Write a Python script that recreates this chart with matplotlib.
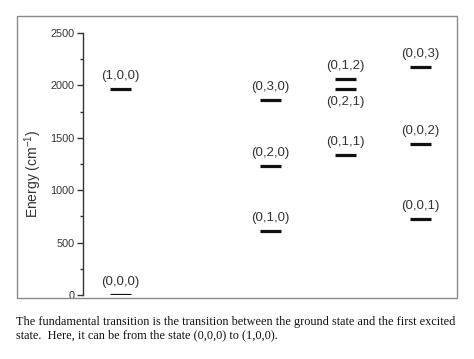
import matplotlib.pyplot as plt
from matplotlib.patches import Rectangle

# vibrational levels
states = ["(0,0,0)", "(1,0,0)",
          "(0,1,0)", "(0,2,0)", "(0,3,0)",
          "(0,1,1)", "(0,2,1)", "(0,1,2)",
          "(0,0,1)", "(0,0,2)", "(0,0,3)"]
column = [1, 1, 3, 3, 3, 4, 4, 4, 5, 5, 5]
energy = [0, 1962, 612, 1229, 1857, 1340, 1962, 2063, 724, 1445, 2174]
label_below = ["(0,2,1)"]

caption = ("The fundamental transition is the transition between the ground state and the first excited\n"
           "state.  Here, it can be from the state (0,0,0) to (1,0,0).")

W, H = 474, 359
plt.rcParams['font.family'] = ['Liberation Sans', 'DejaVu Sans']
plt.rcParams['mathtext.fontset'] = 'custom'
plt.rcParams['mathtext.rm'] = 'Liberation Sans'
plt.rcParams['mathtext.default'] = 'rm'
fig = plt.figure(figsize=(W / 100, H / 100), dpi=100)

# grey frame around the embedded chart
fig.patches.append(Rectangle((17 / W, 1 - 298 / H), (457 - 17) / W, (298 - 16) / H,
                             transform=fig.transFigure, fill=False,
                             edgecolor='#8a8a8a', lw=1.0))

ax = fig.add_axes([83 / W, 1 - 295 / H, (457 - 83) / W, (295 - 33) / H])
ax.set_facecolor('none')
ax.set_xlim(0.5, 0.5 + (457 - 83) / 75)
ax.set_ylim(0, 2500)
for s in ['top', 'right', 'bottom']:
    ax.spines[s].set_visible(False)
ax.spines['left'].set_color('#333333')
ax.spines['left'].set_linewidth(1.0)
ax.set_xticks([])
ax.set_yticks([0, 500, 1000, 1500, 2000, 2500])
ax.set_yticks(range(250, 2500, 500), minor=True)
ax.tick_params(axis='y', which='major', length=4, width=1, colors='#333333',
               labelsize=7.8, pad=2, labelcolor='#333333')
ax.tick_params(axis='y', which='minor', length=2, width=1, colors='#333333')

half = 0.145
for name, c, e in zip(states, column, energy):
    ax.plot([c - half, c + half], [e, e], color='#111111', lw=2.3, solid_capstyle='butt')
    if name in label_below:
        ax.annotate(name, (c, e), xytext=(0, -5), textcoords='offset points',
                    ha='center', va='top', fontsize=9.5, color='#333333')
    else:
        ax.annotate(name, (c, e), xytext=(0, 5), textcoords='offset points',
                    ha='center', va='bottom', fontsize=9.5, color='#333333')

fig.text(33 / W, 1 - 174 / H, "Energy (cm$^{-1}$)", rotation=90, ha='center', va='center',
         fontsize=10, color='#333333')

fig.text(16 / W, 1 - 316 / H, caption, ha='left', va='top', fontsize=8.8,
         family=['Liberation Serif'], color='#111111', linespacing=1.15)

fig.savefig("out.png", dpi=100)
